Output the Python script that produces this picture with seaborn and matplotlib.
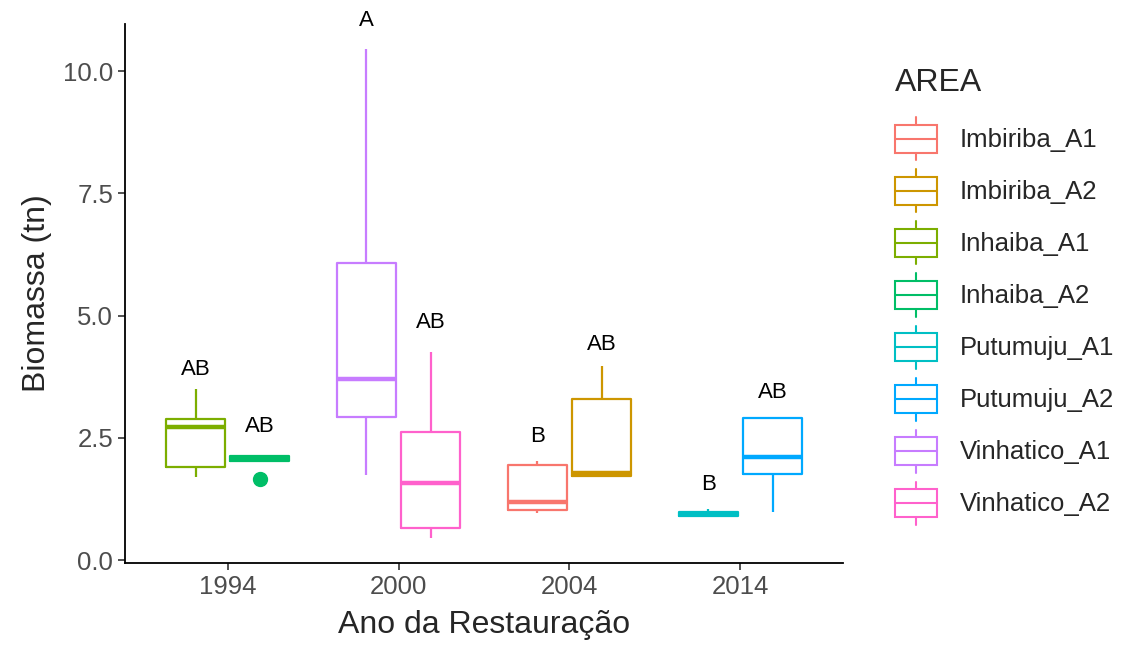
"""Boxplot of biomass by restoration year and area."""

import matplotlib

matplotlib.use("Agg")
import matplotlib.pyplot as plt
import pandas as pd
import seaborn as sns
from matplotlib.legend_handler import HandlerBase
from matplotlib.lines import Line2D
from matplotlib.patches import Patch, Rectangle

# Data (per area: low whisker, Q1, median, Q3, high whisker)
years = ["1994", "2000", "2004", "2014"]
areas = [
    "Imbiriba_A1", "Imbiriba_A2", "Inhaiba_A1", "Inhaiba_A2",
    "Putumuju_A1", "Putumuju_A2", "Vinhatico_A1", "Vinhatico_A2",
]
area_year = ["2004", "2004", "1994", "1994", "2014", "2014", "2000", "2000"]
area_side = [0, 1, 0, 1, 0, 1, 0, 1]
imbiriba_a1 = [0.96, 1.02, 1.19, 1.94, 2.02]
imbiriba_a2 = [1.70, 1.72, 1.78, 3.29, 3.97]
inhaiba_a1 = [1.70, 1.90, 2.72, 2.88, 3.50]
inhaiba_a2 = [1.66, 2.03, 2.07, 2.12, 2.12]
putumuju_a1 = [0.88, 0.90, 0.94, 0.98, 1.05]
putumuju_a2 = [0.98, 1.76, 2.11, 2.90, 2.90]
vinhatico_a1 = [1.74, 2.92, 3.70, 6.07, 10.45]
vinhatico_a2 = [0.45, 0.65, 1.57, 2.62, 4.25]
values = [
    imbiriba_a1, imbiriba_a2, inhaiba_a1, inhaiba_a2,
    putumuju_a1, putumuju_a2, vinhatico_a1, vinhatico_a2,
]

# Significance letters and their heights
letters = ["B", "AB", "AB", "AB", "B", "AB", "A", "AB"]
letter_y = [2.52, 4.40, 3.89, 2.74, 1.55, 3.42, 11.04, 4.85]

palette = [
    "#F8766D", "#CD9600", "#7CAE00", "#00BE67",
    "#00BFC4", "#00A9FF", "#C77CFF", "#FF61CC",
]

DODGE = 0.1875

# Set figure aesthetics
sns.set_theme(style="ticks")
plt.rcParams["font.family"] = ["Liberation Sans", "DejaVu Sans"]


class BoxKey(HandlerBase):
    """ggplot-like boxplot legend key."""

    def create_artists(self, legend, orig_handle, xdescent, ydescent,
                       width, height, fontsize, trans):
        color = orig_handle.get_edgecolor()
        x0, y0 = -xdescent, -ydescent
        bx0, bw = x0, width
        by0, bh = y0 + 0.18 * height, 0.64 * height
        xm = x0 + width / 2
        rect = Rectangle((bx0, by0), bw, bh, facecolor="white",
                         edgecolor=color, lw=1.5, transform=trans)
        med = Line2D([bx0, bx0 + bw], [by0 + bh / 2] * 2,
                     color=color, lw=1.5, transform=trans)
        w_lo = Line2D([xm, xm], [y0, by0], color=color, lw=1.5, transform=trans)
        w_hi = Line2D([xm, xm], [by0 + bh, y0 + height], color=color,
                      lw=1.5, transform=trans)
        return [rect, med, w_lo, w_hi]


def main():
    records = []
    for area, year, side, vals in zip(areas, area_year, area_side, values):
        pos = years.index(year) + (DODGE if side else -DODGE)
        for v in vals:
            records.append({"AREA": area, "Ano": year, "pos": pos,
                            "Biomassa": v})
    df = pd.DataFrame(records)

    fig = plt.figure(figsize=(11.29, 6.47), dpi=100)
    ax = fig.add_axes([0.1107, 0.1298, 0.636, 0.833])

    sns.boxplot(
        data=df, x="pos", y="Biomassa", hue="AREA", hue_order=areas,
        palette=palette, native_scale=True, dodge=False, fill=False,
        width=0.93, linewidth=1.6, showcaps=False, legend=False,
        medianprops={"linewidth": 3.2},
        flierprops={"marker": "o", "markersize": 10},
        ax=ax,
    )
    # filled outlier points like ggplot
    for ln in ax.lines:
        if ln.get_marker() == "o":
            ln.set_markerfacecolor(ln.get_markeredgecolor())

    # significance letters
    for area, year, side, lab, ly in zip(areas, area_year, area_side,
                                         letters, letter_y):
        pos = years.index(year) + (DODGE if side else -DODGE)
        ax.text(pos, ly, lab, ha="center", va="center", fontsize=16,
                color="black")

    ax.set_xlim(-0.6, 3.6)
    ax.set_ylim(-0.06, 10.96)
    ax.set_xticks(range(len(years)))
    ax.set_xticklabels(years)
    ax.set_yticks([0, 2.5, 5, 7.5, 10])
    ax.set_yticklabels(["0.0", "2.5", "5.0", "7.5", "10.0"])
    ax.tick_params(axis="both", labelsize=18.5, labelcolor="#4D4D4D",
                   color="#333333", length=5, width=1.2)
    ax.set_xlabel("Ano da Restauração", fontsize=23, labelpad=8)
    ax.set_ylabel("Biomassa (tn)", fontsize=23, labelpad=8)
    sns.despine(ax=ax)
    for side in ["left", "bottom"]:
        ax.spines[side].set_linewidth(1.3)
        ax.spines[side].set_color("black")

    handles = [Patch(facecolor="white", edgecolor=c) for c in palette]
    leg = fig.legend(
        handles, areas, title="AREA", loc="upper left",
        bbox_to_anchor=(0.7927, 0.895), frameon=False, fontsize=18.5,
        title_fontsize=23, handler_map={Patch: BoxKey()},
        handlelength=1.63, handleheight=2.2, labelspacing=0.35,
        handletextpad=0.9, borderpad=0.0, borderaxespad=0.0,
    )
    leg._legend_box.align = "left"
    # a bit more room between the title and the keys
    leg._legend_box.sep = 14

    fig.savefig("out.png", dpi=100, facecolor="white")


if __name__ == "__main__":
    main()
